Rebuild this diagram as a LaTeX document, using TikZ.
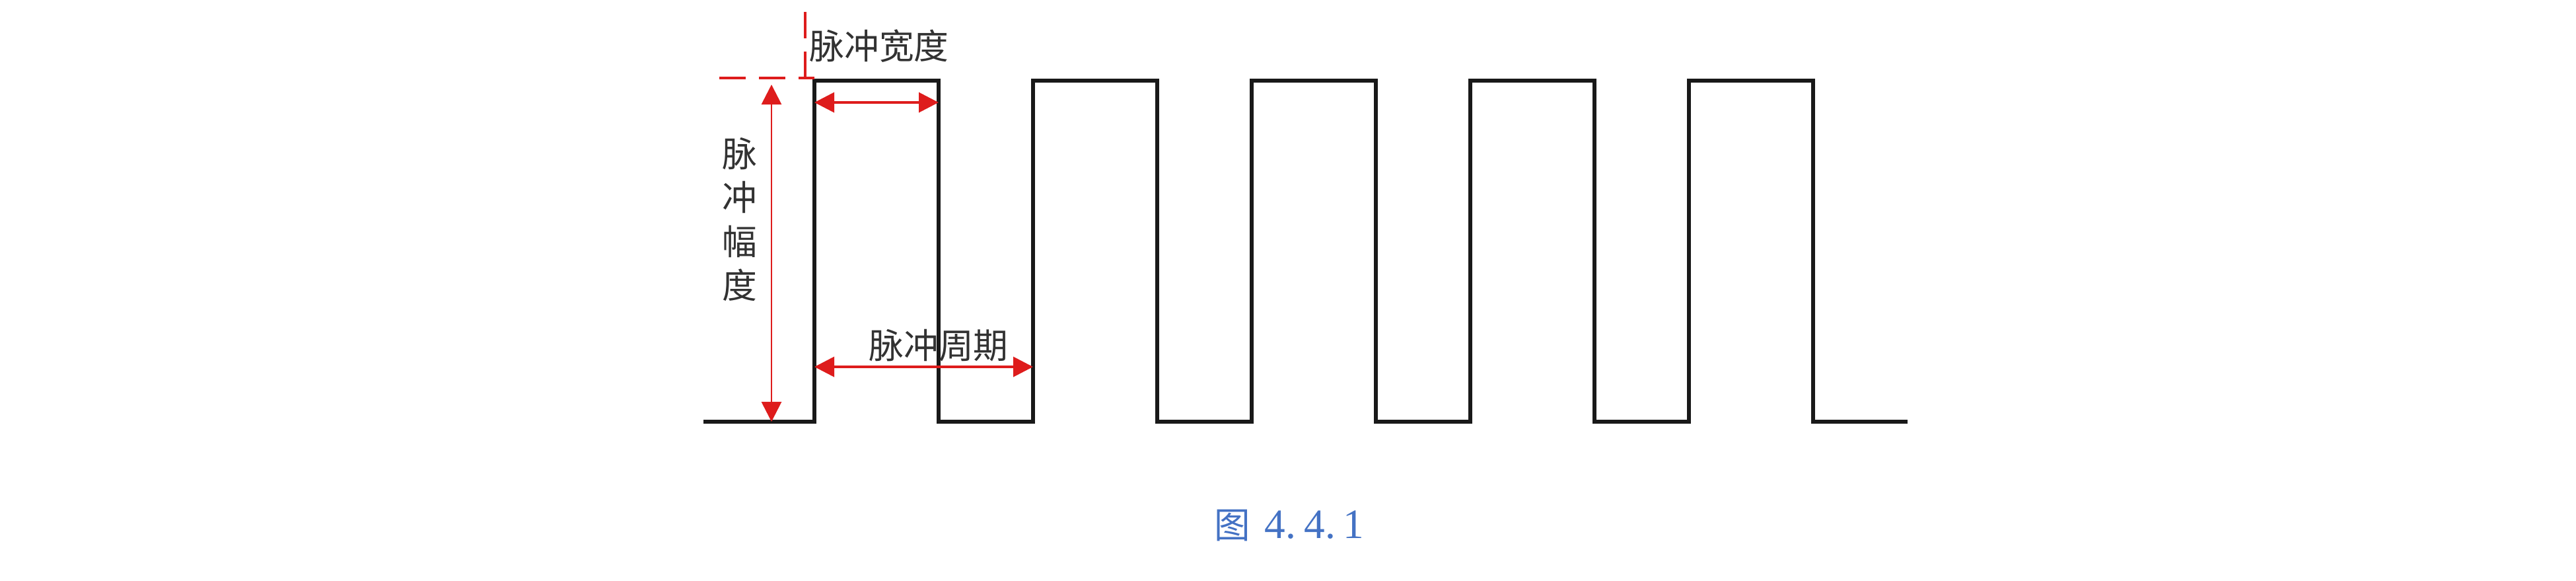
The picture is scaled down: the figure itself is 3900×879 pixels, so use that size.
\documentclass[tikz,border=0pt]{standalone}
\usepackage{fontspec}
\setmainfont{Liberation Serif}
\newfontfamily\cjkfont{Noto Sans CJK SC}
\usetikzlibrary{
  arrows.meta
}
\definecolor{pulsered}{RGB}{222,28,28}
\definecolor{labelgray}{RGB}{50,50,50}
\definecolor{captionblue}{RGB}{68,114,196}

\tikzset{
  wave/.style={line width=1.6pt, line join=miter, black!90},
  measure/.style={pulsered, line width=1.1pt,
    {Triangle[length=0.3cm,width=0.3cm]}-{Triangle[length=0.3cm,width=0.3cm]}},
  guide/.style={pulsered, line width=1pt, dash pattern=on 0.4cm off 0.2cm},
  tag/.style={font=\cjkfont\fontsize{15}{18.8}\selectfont, text=labelgray, inner sep=0pt}
}

\begin{document}
\begin{tikzpicture}[x=0.01cm, y=-0.01cm]
  \useasboundingbox (0,0) rectangle (3900,879);
  \def\Ylo{638};
  \def\Yhi{122};
  \def\Xs{1065};   % start of the wave
  \def\Xr{1233};   % first rising edge
  \def\Th{188};    % high time
  \def\Tp{331};    % period
  \def\Xe{2888};   % end of the wave

        % the pulse train
        \draw[wave] (\Xs, \Ylo)
          \foreach \i in {0,...,4} {
            -- (\Xr + \Tp*\i, \Ylo) -- (\Xr + \Tp*\i, \Yhi)
            -- (\Xr + \Tp*\i + \Th, \Yhi) -- (\Xr + \Tp*\i + \Th, \Ylo)
          } -- (\Xe, \Ylo);

        % reference points
        \coordinate (hl) at (1089, 118);
        \coordinate (hr) at (\Xr, 118);
        \coordinate (vt) at (1219, 18);
        \coordinate (vb) at (1219, 118);
        \coordinate (at) at (1168, 128);
        \coordinate (ab) at (1168, \Ylo);
        \coordinate (wl) at (\Xr, 155);
        \coordinate (wr) at (\Xr + \Th, 155);
        \coordinate (pl) at (\Xr, 555);
        \coordinate (pr) at (\Xr + \Tp, 555);

        \draw[guide] (hl) -- (hr);   % top level
        \draw[guide] (vt) -- (vb);   % start of pulse

        \draw[measure] (wl) -- (wr);   % width
        \draw[measure, line width=0.8pt] (at) -- (ab);   % amplitude
        \draw[measure] (pl) -- (pr);   % period

        \node[tag] (width) at (1331, 70) {脉冲宽度};
        \node[tag, align=center] (amp) at (1120, 332) {脉\\冲\\幅\\度};
        \node[tag] (period) at (1421, 523) {脉冲周期};

        \node[inner sep=0pt, text=captionblue] (caption) at (1952, 795)
          {{\cjkfont\fontsize{15.5}{18}\selectfont 图}\hspace{0.22cm}{\fontsize{18}{20}\selectfont 4.\hspace{0.12cm}4.\hspace{0.12cm}1}};

\end{tikzpicture}
\end{document}
